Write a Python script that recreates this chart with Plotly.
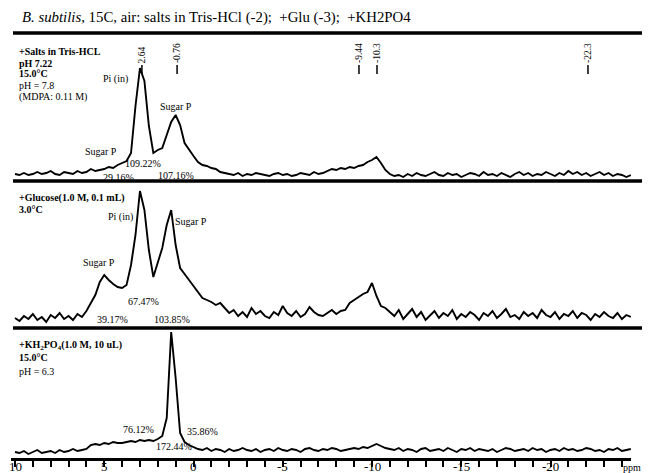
import numpy as np
import plotly.graph_objects as go

# ---------------- data ----------------
ppm_start = 10.0      # first sample of the spectra (ppm)
ppm_step = 0.25       # sampling step (ppm)

# +Salts in Tris-HCl spectrum (relative intensity)
tris_hcl = [7, 6, 8, 6, 7, 9, 7, 8, 10, 7, 6, 9, 8, 7, 10, 8, 9, 12, 10,
            11, 12, 14, 13, 16, 18, 20,
            28, 75, 113, 100, 55, 28, 31, 33,
            46, 59, 66, 56, 38, 31, 25, 19, 16, 15, 13, 12, 9,
            8, 7, 6, 8, 5, 7, 6, 8, 7, 6, 5, 7, 8, 6, 7, 5, 6, 8, 7, 6, 9, 7, 8, 10, 12,
            11, 13, 12, 14, 13, 15, 16, 19, 21, 24, 18, 11, 7, 5,
            6, 4, 7, 5, 8, 6, 5, 7, 9, 6, 5, 8, 6, 7, 4, 6, 8, 7, 5, 9, 6, 7, 5, 8, 6, 4,
            7, 9, 6, 8, 5, 7, 6, 9, 7, 5, 8, 6, 10, 7, 9, 6, 8, 5, 7, 9, 6, 8, 5, 7, 6, 4, 6]

# +Glucose spectrum
glucose = [10, 7, 12, 9, 14, 8, 11, 6, 13, 10, 15, 9, 12, 8, 14, 11, 17,
           25, 33, 46, 53, 48, 44, 41, 40, 43,
           63, 93, 137, 118, 78, 51,
           65, 80, 103, 118, 83, 60, 54, 48, 42, 37, 30, 28, 26, 23, 25, 20,
           15, 18, 12, 16, 11, 20, 14, 17, 12, 10, 16, 13, 22, 15, 12, 17, 11, 14, 21, 16,
           13, 12, 15, 18, 14, 17,
           18, 25, 28, 31, 34, 36, 45, 32, 22, 20, 16,
           12, 18, 9, 14, 19, 11, 16, 8, 13, 17, 10, 15, 12, 18, 9, 14, 11, 16, 13, 8, 15,
           12, 17, 10, 14, 19, 11, 13, 9, 16, 12, 15, 10, 18, 13, 11, 16, 9, 14, 12, 17, 10,
           15, 13, 8, 14, 11, 16, 12, 10, 15, 9, 13, 11]

# +KH2PO4 spectrum
kh2po4 = [6, 5, 7, 4, 6, 8, 5, 6, 7, 5, 8, 6, 7, 9, 7, 8, 9,
          13, 14, 13, 15, 14, 16, 15, 15, 16, 17, 16, 18, 17, 18, 17, 19,
          22, 40, 126, 80, 25, 16, 13, 11,
          9, 8, 10, 7, 9, 8, 6, 9, 7, 8, 10, 8, 7, 9, 6, 8, 9, 7, 10, 8, 7, 9, 8, 6, 9, 10,
          8, 7, 9, 8, 10, 9, 7, 8, 9, 10, 9, 11, 10,
          12, 14, 12, 10, 9,
          8, 10, 7, 9, 8, 6, 9, 10, 7, 8, 9, 7, 10, 8, 6, 9, 8, 10, 7, 9, 8, 7, 9, 6, 8, 10,
          9, 7, 8, 9, 7, 10, 8, 9, 6, 8, 9, 7, 10, 8, 9, 7, 8, 10, 9, 7, 8, 6, 9, 8, 10, 7, 8, 9]

tick_vals = [10, 5, 0, -5, -10, -15, -20]
tick_text = ["10", "5", "0", "-5", "-10", "-15", "-20"]

marker_ppm = [2.89, 0.92, -9.27, -10.28, -22.1]
marker_labels = ["2.64", "-0.76", "-9.44", "-10.3", "-22.3"]

panel1_notes = ["Pi (in)", "Sugar P", "Sugar P", "109.22%", "29.16%", "107.16%"]
panel2_notes = ["Pi (in)", "Sugar P", "Sugar P", "67.47%", "39.17%", "103.85%"]
panel3_notes = ["76.12%", "35.86%", "172.44%"]

# ---------------- layout helpers ----------------
OFF = 8                      # page body margin of the html page
W, H = 650 - OFF, 473 - OFF  # figure size so that it fills the window
ML, MR, MT, MB = 3, 19, 0, 15
PW, PH = W - ML - MR, H - MT - MB


def PX(x):
    """window pixel x -> paper coordinate"""
    return (x - OFF - ML) / PW


def PY(y):
    """window pixel y -> paper coordinate"""
    return (MT + PH - (y - OFF)) / PH


SERIF = "Liberation Serif, Times New Roman, serif"


def axis_ppm(vals):
    return [ppm_start - ppm_step * i for i in range(len(vals))]


fig = go.Figure()
for vals, ya in [(tris_hcl, "y"), (glucose, "y2"), (kh2po4, "y3")]:
    fig.add_trace(go.Scatter(x=axis_ppm(vals), y=vals, mode="lines",
                             line=dict(color="black", width=1.9),
                             xaxis="x", yaxis=ya, hoverinfo="skip", showlegend=False))

ann = []
# title
ann.append(dict(text="<i>B. subtilis</i>, 15C, air: salts in Tris-HCl (-2);  +Glu (-3);  +KH2PO4",
                x=PX(20), y=PY(17), xref="paper", yref="paper", xanchor="left", yanchor="middle",
                showarrow=False, font=dict(family=SERIF, size=14.8, color="black")))

headers = [
    ("<b>+Salts in Tris-HCL</b>", 52), ("<b>pH 7.22</b>", 63), ("<b>15.0°C</b>", 74),
    ("pH = 7.8", 85), ("(MDPA: 0.11 M)", 97),
    ("<b>+Glucose(1.0 M, 0.1 mL)</b>", 198), ("<b>3.0°C</b>", 209),
    ("<b>+KH<sub>2</sub>PO<sub>4</sub>(1.0 M, 10 uL)</b>", 345), ("<b>15.0°C</b>", 357),
    ("pH = 6.3", 371),
]
for t, y in headers:
    ann.append(dict(text=t, x=PX(17), y=PY(y), xref="paper", yref="paper", xanchor="left",
                    yanchor="middle", showarrow=False, font=dict(family=SERIF, size=10, color="black")))

note_pos1 = [(116, 79), (176, 107), (101, 152), (143, 163), (118, 177), (176, 176)]
note_pos2 = [(120, 217), (191, 222), (99, 262), (143, 301), (112, 319), (172, 319)]
note_pos3 = [(138, 429), (202, 431), (174, 446)]
for notes, pos in [(panel1_notes, note_pos1), (panel2_notes, note_pos2), (panel3_notes, note_pos3)]:
    for t, (x, y) in zip(notes, pos):
        ann.append(dict(text=t, x=PX(x), y=PY(y), xref="paper", yref="paper", xanchor="center",
                        yanchor="middle", showarrow=False,
                        font=dict(family=SERIF, size=10, color="black")))

shapes = []
for p, lab in zip(marker_ppm, marker_labels):
    ann.append(dict(text=lab, x=p, y=PY(65), xref="x", yref="paper", xanchor="center",
                    yanchor="bottom", textangle=-90, showarrow=False,
                    font=dict(family=SERIF, size=9.5, color="black")))
    shapes.append(dict(type="line", xref="x", yref="paper", x0=p, x1=p, y0=PY(65), y1=PY(74),
                       line=dict(color="black", width=1.5)))

# x-axis tick labels placed on the ppm axis
for v, t in zip(tick_vals, tick_text):
    ann.append(dict(text=t, x=v, y=PY(466.5), xref="x", yref="paper", xanchor="center",
                    yanchor="middle", showarrow=False,
                    font=dict(family=SERIF, size=13, color="black")))

ann.append(dict(text="ppm", x=PX(632), y=PY(467), xref="paper", yref="paper", xanchor="center",
                yanchor="middle", showarrow=False, font=dict(family=SERIF, size=10, color="black")))

for y in [33, 181, 328]:
    shapes.append(dict(type="line", xref="paper", yref="paper", x0=PX(13), x1=PX(642),
                       y0=PY(y), y1=PY(y), line=dict(color="black", width=3.5)))

fig.update_layout(
    width=W, height=H,
    margin=dict(l=ML, r=MR, t=MT, b=MB, autoexpand=False),
    paper_bgcolor="white", plot_bgcolor="white",
    showlegend=False,
    xaxis=dict(domain=[0, 1], range=[10.224, -24.51], anchor="y3",
               showline=True, linewidth=3, linecolor="black",
               ticks="outside", ticklen=6, tickwidth=2, tickcolor="black",
               tickmode="array", tickvals=tick_vals, showticklabels=False,
               automargin=False,
               minor=dict(dtick=1, tick0=0, ticks="outside", ticklen=6, tickwidth=2,
                          tickcolor="black", showgrid=False),
               showgrid=False, zeroline=False),
    yaxis=dict(domain=[PY(181), PY(34)], range=[0, 147], visible=False),
    yaxis2=dict(domain=[PY(328), PY(182)], range=[0, 146], visible=False),
    yaxis3=dict(domain=[0, PY(329)], range=[0, 129], visible=False),
    annotations=ann,
    shapes=shapes,
)

fig.write_html("out.html")
